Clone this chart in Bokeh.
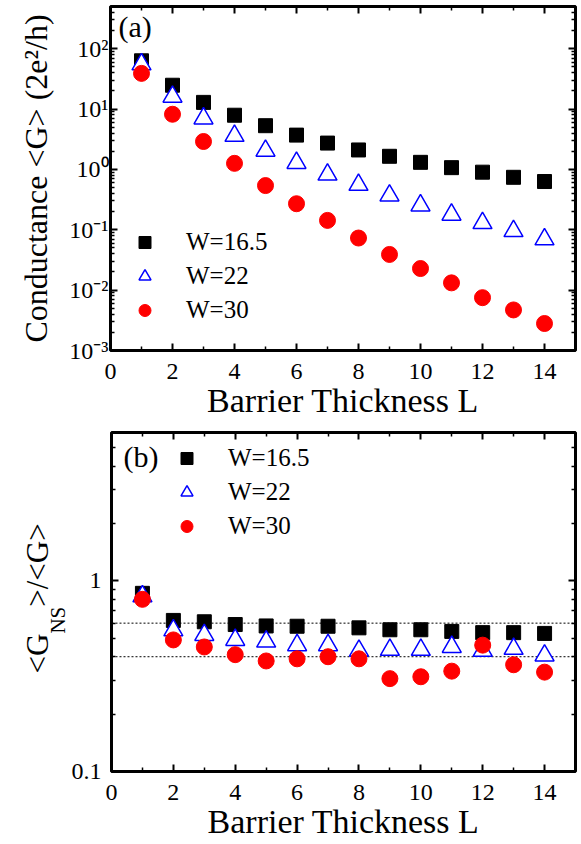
import math
from bokeh.plotting import figure
from bokeh.models import (Range1d, FixedTicker, LogAxis, LinearAxis, CustomJSTickFormatter,
                          CustomLabelingPolicy, Legend, LegendItem, Label, Span)
from bokeh.layouts import column, row
from bokeh.embed import file_html
from bokeh.resources import INLINE

# ---------------- data ----------------
L = list(range(1, 15))
# panel (a): conductance <G> (2e^2/h)
G_W165 = [63, 24.8, 12.9, 7.9, 5.3, 3.7, 2.73, 2.1, 1.65, 1.31, 1.07, 0.9, 0.74, 0.63]
G_W22 = [55, 16, 7.0, 3.6, 2.04, 1.28, 0.82, 0.555, 0.37, 0.253, 0.178, 0.129, 0.095, 0.0695]
G_W30 = [39, 8.2, 2.9, 1.26, 0.54, 0.27, 0.143, 0.073, 0.039, 0.0228, 0.0132, 0.0075, 0.0047, 0.0028]
# panel (b): <G_NS>/<G>
R_W165 = [0.86, 0.62, 0.61, 0.59, 0.58, 0.578, 0.578, 0.567, 0.554, 0.554, 0.543, 0.535, 0.535, 0.53]
R_W22 = [0.83, 0.55, 0.52, 0.49, 0.48, 0.46, 0.46, 0.43, 0.435, 0.435, 0.45, 0.43, 0.44, 0.406]
R_W30 = [0.80, 0.49, 0.45, 0.41, 0.38, 0.39, 0.40, 0.39, 0.307, 0.314, 0.336, 0.46, 0.363, 0.332]
ref_levels = [0.6, 0.4]
series_labels = ["W=16.5", "W=22", "W=30"]

x_major = [0, 2, 4, 6, 8, 10, 12, 14]
x_minor = [1, 3, 5, 7, 9, 11, 13]
ya_major = [1e-3, 1e-2, 1e-1, 1e0, 1e1, 1e2]
ya_minor = [m * 10.0 ** e for e in range(-3, 3) for m in range(2, 10) if m * 10.0 ** e <= 500]
yb_major = [0.1, 1]
yb_minor = [0.2, 0.3, 0.4, 0.5, 0.6, 0.7, 0.8, 0.9, 2, 3, 4, 5, 6]

FONT = "Liberation Serif"
W = 580
LBW = 68  # width of the strip holding panel (b)'s y label

sup_fmt = CustomJSTickFormatter(code="""
const s = {'-': '\u207B', '0': '\u2070', '1': '\u00B9', '2': '\u00B2', '3': '\u00B3'};
const e = Math.round(Math.log10(tick));
return '10' + String(e).split('').map(c => s[c]).join('');
""")
plain_fmt = CustomJSTickFormatter(code="return String(Number(tick.toPrecision(2)));")


def style_axis(ax, labels=True, size="24px", standoff=5):
    ax.axis_line_color = None
    ax.major_tick_in = 7
    ax.major_tick_out = 0
    ax.minor_tick_in = 4
    ax.minor_tick_out = 0
    ax.major_tick_line_color = "black"
    ax.minor_tick_line_color = "black"
    ax.major_tick_line_width = 2
    ax.minor_tick_line_width = 1.5
    ax.major_label_text_font = FONT
    ax.axis_label_text_font = FONT
    ax.axis_label_text_font_style = "normal"
    ax.axis_label_text_color = "black"
    ax.major_label_text_color = "black"
    if labels:
        ax.major_label_text_font_size = size
        ax.major_label_standoff = standoff
    else:
        # tick marks only: no labels are drawn on the mirror axes
        ax.major_label_text_font_size = "1px"
        ax.major_label_standoff = 0
        ax.major_label_policy = CustomLabelingPolicy(code="return [];")


def make_fig(width, height, left, y0, y1, top, bottom, ymaj, ymin, yfmt, ystand):
    p = figure(width=width, height=height, x_range=Range1d(0, 15), y_range=Range1d(y0, y1),
               y_axis_type="log", output_backend="svg", toolbar_location=None,
               min_border_left=left, min_border_right=2, min_border_top=top,
               min_border_bottom=bottom)
    p.xgrid.visible = False
    p.ygrid.visible = False
    p.outline_line_color = "black"
    p.outline_line_width = 3
    p.outline_line_alpha = 1
    p.background_fill_color = "white"
    p.border_fill_color = "white"

    xt = FixedTicker(ticks=x_major, minor_ticks=x_minor)
    yt = FixedTicker(ticks=ymaj, minor_ticks=ymin)

    bx = p.below[0]
    bx.ticker = xt
    style_axis(bx, True, "24px", 13)
    bx.axis_label = "Barrier Thickness L"
    bx.axis_label_text_font_size = "34px"
    bx.axis_label_standoff = 0

    ly = p.left[0]
    ly.ticker = yt
    ly.formatter = yfmt
    style_axis(ly, True, "24px", ystand)

    ax_top = LinearAxis(ticker=xt)
    style_axis(ax_top, False)
    p.add_layout(ax_top, "above")
    ax_right = LogAxis(ticker=yt)
    style_axis(ax_right, False)
    p.add_layout(ax_right, "right")
    return p


def add_series(p, ys):
    r1 = p.scatter(L, ys[0], marker="square", size=14, fill_color="black", line_color="black")
    r2 = p.scatter(L, ys[1], marker="triangle", size=19, fill_color="white", line_color="blue",
                   line_width=1.5)
    r3 = p.scatter(L, ys[2], marker="circle", size=16, fill_color="red", line_color="red")
    return [r1, r2, r3]


def add_legend(p, rs, loc):
    leg = Legend(items=[LegendItem(label=lab, renderers=[r]) for lab, r in zip(series_labels, rs)],
                 location=loc, border_line_color=None, background_fill_alpha=0, padding=0,
                 margin=0, glyph_width=33, glyph_height=30, label_height=30, spacing=4,
                 label_standoff=25, label_text_font=FONT, label_text_font_size="25px",
                 label_text_font_style="normal", label_text_color="black")
    p.add_layout(leg)


# ---------------- panel (a) ----------------
pa = make_fig(W, 422, 110, 1e-3, 500, 6, 72, ya_major, ya_minor, sup_fmt, 2)
pa.left[0].axis_label = "Conductance <G> (2e\u00B2/h)"
pa.left[0].axis_label_text_font_size = "32px"
pa.left[0].axis_label_standoff = 12
ra = add_series(pa, [G_W165, G_W22, G_W30])
add_legend(pa, ra, (18, 25))
pa.add_layout(Label(x=8, y=324, x_units="screen", y_units="screen", text="(a)",
                    text_color="black", text_font=FONT, text_font_size="30px",
                    text_baseline="alphabetic"))

# ---------------- panel (b) ----------------
pb = make_fig(W - LBW, 420, 110 - LBW, 0.1, 6, 10, 70, yb_major, yb_minor, plain_fmt, 10)
for lev in ref_levels:
    pb.add_layout(Span(location=lev, dimension="width", line_color="black", line_width=1,
                       line_dash="2 2", level="underlay"))
rb = add_series(pb, [R_W165, R_W22, R_W30])
add_legend(pb, rb, (59, 230))
pb.add_layout(Label(x=12, y=315, x_units="screen", y_units="screen", text="(b)",
                    text_color="black", text_font=FONT, text_font_size="30px",
                    text_baseline="alphabetic"))

# y label of panel (b) (with subscript), in a narrow strip left of the panel
lb = figure(width=LBW, height=420, x_range=Range1d(0, 1), y_range=Range1d(0, 1),
            output_backend="svg", toolbar_location=None, min_border=0,
            x_axis_location=None, y_axis_location=None)
lb.outline_line_color = None
lb.grid.visible = False
lb.border_fill_color = "white"
lb.background_fill_color = "white"
y_start = 98
pieces = [("<G", 37, 0, "31px"), ("NS", 57, 39.9, "21px"), (">/<G>", 37, 39.9 + 26.8, "31px")]
for txt, xx, dy, fs in pieces:
    lb.add_layout(Label(x=xx, y=y_start + dy, x_units="screen", y_units="screen", text=txt,
                        angle=math.pi / 2, text_color="black", text_font=FONT,
                        text_font_size=fs, text_align="left", text_baseline="alphabetic"))

layout = column(pa, row(lb, pb))
open("out.html", "w").write(file_html(layout, INLINE))
